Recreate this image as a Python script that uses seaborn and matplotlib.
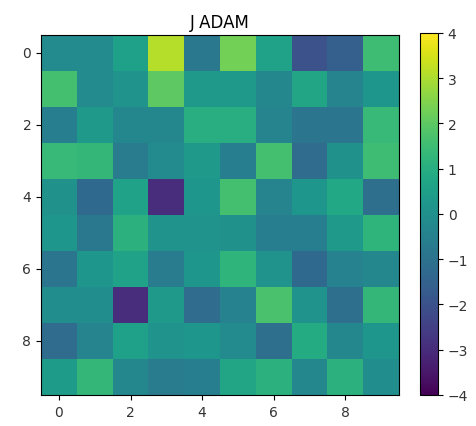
import numpy as np
import pandas as pd
import matplotlib
matplotlib.use("Agg")
import matplotlib.pyplot as plt
import seaborn as sns

# 10x10 grid of values, one list per row (row 0 drawn at the top)
row0 = [-0.2, -0.2, 0.5, 3.1, -0.8, 2.3, 0.6, -2.0, -1.6, 1.5]
row1 = [1.6, -0.2, 0.1, 2.0, 0.3, 0.3, -0.3, 0.7, -0.4, 0.2]
row2 = [-0.6, 0.3, -0.3, -0.3, 1.0, 1.0, -0.4, -0.9, -0.9, 1.4]
row3 = [1.4, 1.3, -0.7, -0.2, 0.3, -0.6, 1.6, -1.2, 0.0, 1.5]
row4 = [0.0, -1.3, 0.6, -3.0, 0.2, 1.6, -0.4, 0.2, 0.8, -1.1]
row5 = [0.2, -0.8, 1.1, 0.1, 0.1, 0.0, -0.6, -0.6, 0.3, 1.2]
row6 = [-0.9, 0.2, 0.6, -0.7, 0.2, 1.2, 0.1, -1.3, -0.5, -0.3]
row7 = [-0.1, -0.1, -3.0, 0.3, -1.2, -0.5, 1.7, 0.1, -1.1, 1.3]
row8 = [-1.2, -0.4, 0.5, 0.1, 0.2, -0.2, -1.1, 0.9, -0.3, 0.2]
row9 = [0.4, 1.3, -0.3, -0.7, -0.6, 0.7, 1.1, -0.3, 1.1, -0.1]

tick_values = [0, 2, 4, 6, 8]
cbar_ticks = [-4, -3, -2, -1, 0, 1, 2, 3, 4]
title = "J ADAM"

data = pd.DataFrame([row0, row1, row2, row3, row4, row5, row6, row7, row8, row9])

fig = plt.figure(figsize=(4.77, 4.27), dpi=100)
ax = fig.add_axes([0.086, 0.0726, 0.7505, 0.843])
cax = fig.add_axes([0.8805, 0.0726, 0.0377, 0.848])

sns.heatmap(data, ax=ax, cbar_ax=cax, cmap="viridis", vmin=-4, vmax=4,
            square=False, cbar_kws={"ticks": cbar_ticks})

ax.set_xticks([t + 0.5 for t in tick_values])
ax.set_xticklabels([str(t) for t in tick_values], rotation=0, fontsize=10)
ax.set_yticks([t + 0.5 for t in tick_values])
ax.set_yticklabels([str(t) for t in tick_values], rotation=0, fontsize=10)
ax.tick_params(length=3.5, width=0.8, color="black", labelcolor="#333333")
for s in ax.spines.values():
    s.set_visible(True)
    s.set_color("black")
    s.set_linewidth(0.8)
ax.set_xlabel("")
ax.set_ylabel("")
ax.set_title(title, fontsize=12)

cbar = ax.collections[0].colorbar
cbar.outline.set_visible(True)
cbar.outline.set_edgecolor("black")
cbar.outline.set_linewidth(0.8)
cax.tick_params(labelsize=10, length=3.5, width=0.8, color="black", labelcolor="#333333")
cbar.set_ticklabels(["\u2212" + str(-t) if t < 0 else str(t) for t in cbar_ticks])

fig.savefig("out.png", dpi=100)
